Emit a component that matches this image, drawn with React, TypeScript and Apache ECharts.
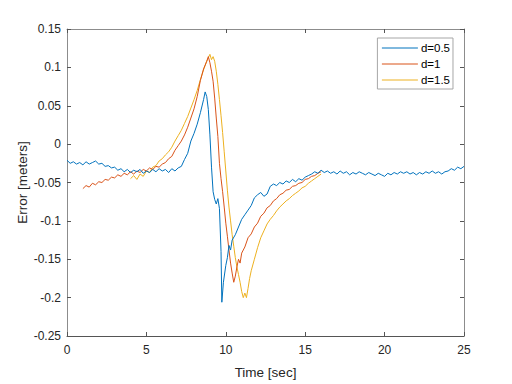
import React, { useEffect, useRef } from "react";
import * as echarts from "echarts";

const seriesNames = ["d=0.5", "d=1", "d=1.5"];
const colors = ["#0072BD", "#D95319", "#EDB120"];

const blue: [number, number][] = [
  [0, -0.021], [0.2, -0.025], [0.4, -0.023], [0.6, -0.026], [0.8, -0.024], [1.0, -0.027],
  [1.2, -0.023], [1.4, -0.026], [1.6, -0.024], [1.8, -0.022], [2.0, -0.026], [2.2, -0.025],
  [2.4, -0.029], [2.6, -0.028], [2.8, -0.031], [3.0, -0.030], [3.2, -0.034], [3.4, -0.032],
  [3.6, -0.036], [3.8, -0.033], [4.0, -0.037], [4.2, -0.034], [4.4, -0.036], [4.6, -0.033],
  [4.8, -0.038], [5.0, -0.035], [5.2, -0.037], [5.4, -0.033], [5.6, -0.036], [5.8, -0.032],
  [6.0, -0.035], [6.2, -0.033], [6.4, -0.037], [6.6, -0.032], [6.8, -0.035], [7.0, -0.031],
  [7.2, -0.029], [7.4, -0.020], [7.6, -0.012], [7.8, 0.004], [8.0, 0.014], [8.2, 0.026],
  [8.4, 0.041], [8.6, 0.058], [8.7, 0.068], [8.8, 0.062], [8.9, 0.045], [9.0, 0.012],
  [9.1, -0.030], [9.2, -0.062], [9.3, -0.072], [9.4, -0.078], [9.5, -0.071], [9.6, -0.084],
  [9.7, -0.140], [9.75, -0.206], [9.85, -0.180], [10.0, -0.158], [10.1, -0.148], [10.2, -0.132],
  [10.3, -0.138], [10.4, -0.125], [10.6, -0.118], [10.8, -0.108], [11.0, -0.098], [11.2, -0.092],
  [11.4, -0.086], [11.6, -0.080], [11.8, -0.070], [12.0, -0.066], [12.2, -0.063], [12.4, -0.068],
  [12.6, -0.065], [12.8, -0.055], [13.0, -0.052], [13.2, -0.054], [13.4, -0.050], [13.6, -0.052],
  [13.8, -0.048], [14.0, -0.050], [14.2, -0.046], [14.4, -0.049], [14.6, -0.045], [14.8, -0.047],
  [15.0, -0.043], [15.2, -0.041], [15.4, -0.039], [15.6, -0.036], [15.8, -0.038], [16.0, -0.034],
  [16.2, -0.037], [16.4, -0.035], [16.6, -0.038], [16.8, -0.036], [17.0, -0.039], [17.2, -0.035],
  [17.4, -0.038], [17.6, -0.036], [17.8, -0.040], [18.0, -0.037], [18.2, -0.039], [18.4, -0.036],
  [18.6, -0.038], [18.8, -0.040], [19.0, -0.037], [19.2, -0.039], [19.4, -0.041], [19.6, -0.038],
  [19.8, -0.040], [20.0, -0.042], [20.2, -0.038], [20.4, -0.040], [20.6, -0.037], [20.8, -0.039],
  [21.0, -0.036], [21.2, -0.038], [21.4, -0.036], [21.6, -0.039], [21.8, -0.037], [22.0, -0.040],
  [22.2, -0.037], [22.4, -0.039], [22.6, -0.036], [22.8, -0.038], [23.0, -0.035], [23.2, -0.038],
  [23.4, -0.036], [23.6, -0.039], [23.8, -0.036], [24.0, -0.035], [24.2, -0.032], [24.4, -0.034],
  [24.6, -0.030], [24.8, -0.032], [25.0, -0.029],
];

const red: [number, number][] = [
  [1.0, -0.058], [1.2, -0.054], [1.4, -0.056], [1.6, -0.051], [1.8, -0.053], [2.0, -0.049],
  [2.2, -0.050], [2.4, -0.046], [2.6, -0.047], [2.8, -0.043], [3.0, -0.044], [3.2, -0.040],
  [3.4, -0.042], [3.6, -0.038], [3.8, -0.040], [4.0, -0.036], [4.2, -0.039], [4.4, -0.035],
  [4.6, -0.037], [4.8, -0.033], [5.0, -0.035], [5.2, -0.031], [5.4, -0.033], [5.6, -0.029],
  [5.8, -0.030], [6.0, -0.026], [6.2, -0.024], [6.4, -0.019], [6.6, -0.016], [6.8, -0.008],
  [7.0, -0.002], [7.2, 0.004], [7.4, 0.012], [7.6, 0.022], [7.8, 0.034], [8.0, 0.046],
  [8.2, 0.062], [8.4, 0.083], [8.6, 0.098], [8.8, 0.108], [8.9, 0.114], [9.0, 0.106],
  [9.1, 0.095], [9.2, 0.082], [9.3, 0.060], [9.4, 0.034], [9.5, 0.010], [9.6, -0.025],
  [9.7, -0.045], [9.8, -0.062], [9.9, -0.082], [10.0, -0.103], [10.1, -0.120], [10.2, -0.138],
  [10.3, -0.155], [10.4, -0.168], [10.5, -0.180], [10.6, -0.172], [10.7, -0.160], [10.8, -0.150],
  [10.9, -0.155], [11.0, -0.142], [11.2, -0.134], [11.4, -0.122], [11.6, -0.117], [11.8, -0.108],
  [12.0, -0.103], [12.2, -0.094], [12.4, -0.090], [12.6, -0.083], [12.8, -0.080], [13.0, -0.074],
  [13.2, -0.071], [13.4, -0.066], [13.6, -0.064], [13.8, -0.060], [14.0, -0.059], [14.2, -0.055],
  [14.4, -0.054], [14.6, -0.051], [14.8, -0.050], [15.0, -0.046], [15.2, -0.045], [15.4, -0.042],
  [15.6, -0.041], [15.8, -0.038], [16.0, -0.036],
];

const yellow: [number, number][] = [
  [4.0, -0.045], [4.2, -0.041], [4.4, -0.046], [4.6, -0.039], [4.8, -0.042], [5.0, -0.035],
  [5.2, -0.037], [5.4, -0.030], [5.6, -0.028], [5.8, -0.022], [6.0, -0.019], [6.2, -0.014],
  [6.4, -0.010], [6.6, -0.004], [6.8, 0.004], [7.0, 0.011], [7.2, 0.018], [7.4, 0.027],
  [7.6, 0.036], [7.8, 0.047], [8.0, 0.058], [8.2, 0.070], [8.4, 0.084], [8.6, 0.097],
  [8.8, 0.108], [9.0, 0.117], [9.1, 0.110], [9.2, 0.114], [9.3, 0.108], [9.4, 0.095],
  [9.5, 0.078], [9.6, 0.058], [9.7, 0.037], [9.8, 0.015], [9.9, -0.010], [10.0, -0.035],
  [10.1, -0.060], [10.2, -0.082], [10.3, -0.100], [10.4, -0.118], [10.5, -0.133], [10.6, -0.148],
  [10.7, -0.160], [10.8, -0.170], [10.9, -0.180], [11.0, -0.192], [11.1, -0.200], [11.2, -0.194],
  [11.3, -0.200], [11.4, -0.188], [11.5, -0.175], [11.6, -0.165], [11.8, -0.150], [12.0, -0.135],
  [12.2, -0.122], [12.4, -0.113], [12.6, -0.104], [12.8, -0.098], [13.0, -0.093], [13.2, -0.087],
  [13.4, -0.082], [13.6, -0.078], [13.8, -0.074], [14.0, -0.071], [14.2, -0.067], [14.4, -0.064],
  [14.6, -0.061], [14.8, -0.057], [15.0, -0.055], [15.2, -0.051], [15.4, -0.048], [15.6, -0.045],
  [15.8, -0.042], [16.0, -0.039],
];

const seriesData = [blue, red, yellow];

const xMin = 0, xMax = 25, xStep = 5;
const yMin = -0.25, yMax = 0.15, yStep = 0.05;

const font = "Liberation Sans, Arial, Helvetica, sans-serif";

export default function App() {
  const ref = useRef<HTMLDivElement>(null);
  useEffect(() => {
    if (!ref.current) return;
    const chart = echarts.init(ref.current, undefined, { renderer: "svg" });
    const boxLine = { show: true, onZero: false, lineStyle: { color: "#8c8c8c", width: 1 } };
    const tick = { show: true, inside: true, length: 4, lineStyle: { color: "#555", width: 1 } };
    const labelStyle = { color: "#262626", fontSize: 12, fontFamily: font };
    chart.setOption({
      animation: false,
      backgroundColor: "#ffffff",
      textStyle: { fontFamily: font },
      grid: { left: 67, top: 29, width: 397, height: 313, containLabel: false },
      legend: {
        show: true,
        orient: "vertical",
        right: 59,
        top: 38,
        data: seriesNames,
        itemWidth: 36,
        itemHeight: 10,
        itemGap: 4,
        padding: [4, 3, 3, 4],
        backgroundColor: "#ffffff",
        borderColor: "#a6a6a6",
        borderWidth: 1,
        borderRadius: 0,
        itemStyle: { opacity: 0, borderWidth: 0 },
        lineStyle: { width: 1 },
        textStyle: { color: "#000000", fontSize: 11.5, fontFamily: font, padding: [0, 0, 0, -2] },
      },
      xAxis: [
        {
          type: "value",
          min: xMin,
          max: xMax,
          interval: xStep,
          position: "bottom",
          axisLine: { show: true, onZero: false, lineStyle: { color: "#555", width: 1 } },
          axisTick: tick,
          splitLine: { show: false },
          axisLabel: { ...labelStyle, margin: 8 },
          name: "Time [sec]",
          nameLocation: "middle",
          nameGap: 29,
          nameMoveOverlap: false,
          nameTextStyle: { color: "#262626", fontSize: 13.5, fontFamily: font },
        },
        {
          type: "value",
          min: xMin,
          max: xMax,
          interval: xStep,
          position: "top",
          axisLine: boxLine,
          axisTick: tick,
          splitLine: { show: false },
          axisLabel: { show: false },
        },
      ],
      yAxis: [
        {
          type: "value",
          min: yMin,
          max: yMax,
          interval: yStep,
          position: "left",
          axisLine: boxLine,
          axisTick: tick,
          splitLine: { show: false },
          axisLabel: {
            ...labelStyle,
            margin: 6,
            formatter: (v: number) => String(Math.round(v * 100) / 100),
          },
          name: "Error [meters]",
          nameLocation: "middle",
          nameGap: 38,
          nameMoveOverlap: false,
          nameTextStyle: { color: "#262626", fontSize: 13.5, fontFamily: font },
        },
        {
          type: "value",
          min: yMin,
          max: yMax,
          interval: yStep,
          position: "right",
          axisLine: boxLine,
          axisTick: tick,
          splitLine: { show: false },
          axisLabel: { show: false },
        },
      ],
      series: seriesNames.map((name, i) => ({
        name,
        type: "line",
        data: seriesData[i],
        xAxisIndex: 0,
        yAxisIndex: 0,
        symbol: "none",
        showSymbol: false,
        smooth: false,
        color: colors[i],
        lineStyle: { color: colors[i], width: 1 },
        z: 3 - i,
      })),
    });
    return () => chart.dispose();
  }, []);
  return <div ref={ref} style={{ width: 512, height: 384, position: "absolute", left: 0, top: 0 }} />;
}
